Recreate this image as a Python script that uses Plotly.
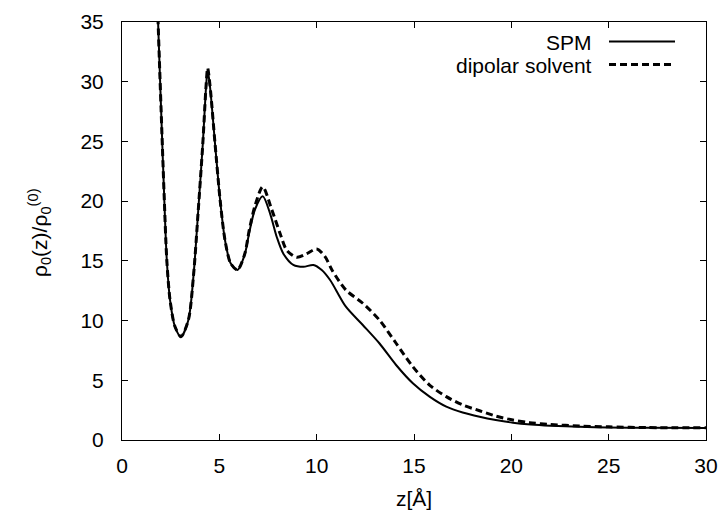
import plotly.graph_objects as go

# ---- data ----
z_spm = [1.75, 1.92, 2.04, 2.16, 2.3, 2.47, 2.72, 3.03, 3.41, 3.67, 3.92, 4.15, 4.32, 4.4, 4.52,
         4.78, 5.04, 5.29, 5.58, 5.93, 6.3, 6.54, 6.83, 7.23, 7.6, 7.95, 8.29, 8.8, 9.32, 9.83,
         10.26, 10.69, 11.5, 12.37, 13.22, 14.08, 14.94, 15.8, 16.66, 17.5, 18.37, 19.2, 20.08,
         21.0, 22.0, 23.5, 25.0, 27.0, 30.0]
rho_spm = [40.0, 31.8, 26.2, 20.7, 15.1, 11.7, 9.5, 8.65, 10.05, 13.7, 19.3, 24.8, 29.6, 31.0, 29.6,
           24.8, 20.1, 16.75, 14.8, 14.24, 15.5, 17.4, 19.3, 20.4, 19.0, 17.0, 15.6, 14.66, 14.5, 14.66,
           14.24, 13.4, 11.16, 9.63, 8.1, 6.28, 4.75, 3.63, 2.79, 2.3, 1.95, 1.68, 1.45,
           1.3, 1.2, 1.1, 1.05, 1.02, 1.0]

z_dip = [1.75, 1.92, 2.04, 2.16, 2.3, 2.47, 2.72, 3.03, 3.41, 3.67, 3.92, 4.15, 4.32, 4.4, 4.52,
         4.78, 5.04, 5.29, 5.58, 5.93, 6.3, 6.54, 6.83, 7.23, 7.69, 8.12, 8.46, 8.98, 9.49, 10.0,
         10.43, 10.8, 11.5, 12.37, 13.22, 14.08, 14.94, 15.8, 16.66, 17.51, 18.37, 19.2, 20.08,
         20.94, 22.0, 23.5, 25.0, 27.0, 30.0]
rho_dip = [40.0, 31.8, 26.2, 20.7, 15.1, 11.7, 9.5, 8.65, 10.05, 13.7, 19.3, 24.8, 29.7, 31.15, 29.7,
           24.8, 20.1, 16.75, 14.8, 14.24, 15.55, 17.6, 19.6, 21.2, 19.3, 17.3, 15.9, 15.3, 15.6, 16.0,
           15.35, 14.2, 12.56, 11.45, 10.05, 8.1, 6.14, 4.6, 3.63, 2.93, 2.45, 2.0, 1.67,
           1.45, 1.3, 1.17, 1.1, 1.04, 1.02]

x_ticks = [0, 5, 10, 15, 20, 25, 30]
y_ticks = [0, 5, 10, 15, 20, 25, 30, 35]
series_names = ["SPM", "dipolar solvent"]

FONT = "Liberation Sans, Arial, Helvetica, sans-serif"
FS = 21

SOLID = dict(color="black", width=2)
DASHED = dict(color="black", width=3, dash="7px,4px")

fig = go.Figure()
fig.add_trace(go.Scatter(x=z_spm, y=rho_spm, mode="lines", name=series_names[0],
                         line=dict(**SOLID, shape="spline", smoothing=0.8)))
fig.add_trace(go.Scatter(x=z_dip, y=rho_dip, mode="lines", name=series_names[1],
                         line=dict(**DASHED, shape="spline", smoothing=0.8)))

# page body has an 8px default margin; figure is placed at (8, 8)
OFF = 8
W, H = 726 - OFF, 517 - OFF
PL, PR, PT, PB = 122, 706, 22, 440          # plot area in window pixels
L, R, T, B = PL - OFF, W - (PR - OFF), PT - OFF, H - (PB - OFF)

def px_x(p):
    return (p - PL) / (PR - PL)

def px_y(p):
    return (PB - p) / (PB - PT)

# gnuplot-style legend: right-aligned text, line sample to the right
legend_rows = [(series_names[0], 42.0, SOLID),
               (series_names[1], 65.0, DASHED)]
for name, ypix, ln in legend_rows:
    fig.add_annotation(x=px_x(594), y=px_y(ypix), xref="paper", yref="paper", text=name,
                       showarrow=False, xanchor="right", yanchor="middle",
                       font=dict(family=FONT, size=FS, color="black"))
    fig.add_shape(type="line", xref="paper", yref="paper",
                  x0=px_x(609), x1=px_x(675), y0=px_y(ypix - 0.5), y1=px_y(ypix - 0.5), line=ln)

fig.add_annotation(x=px_x(39), y=px_y(232), xref="paper", yref="paper",
                   text="ρ<sub>0</sub>(z)/ρ<sub>0</sub><sup>(0)</sup>", textangle=-90,
                   showarrow=False, xanchor="center", yanchor="middle",
                   font=dict(family=FONT, size=FS, color="black"))
fig.add_annotation(x=0.5, y=px_y(498), xref="paper", yref="paper", text="z[Å]",
                   showarrow=False, xanchor="center", yanchor="middle",
                   font=dict(family=FONT, size=FS, color="black"))

axis_common = dict(showgrid=False, zeroline=False, showline=True, linecolor="black", linewidth=1,
                   mirror="allticks", ticks="inside", ticklen=6, tickwidth=1, tickcolor="black",
                   automargin=False, tickfont=dict(family=FONT, size=FS, color="black"))
fig.update_xaxes(range=[0, 30], tickvals=x_ticks, ticktext=[str(v) for v in x_ticks],
                 ticklabelstandoff=7, **axis_common)
fig.update_yaxes(range=[0, 35], tickvals=y_ticks, ticktext=[str(v) for v in y_ticks],
                 ticklabelstandoff=13, **axis_common)

fig.update_layout(width=W, height=H, margin=dict(l=L, r=R, t=T, b=B, pad=0, autoexpand=False),
                  plot_bgcolor="white", paper_bgcolor="white", showlegend=False,
                  font=dict(family=FONT, size=FS, color="black"))

fig.write_html("out.html")
